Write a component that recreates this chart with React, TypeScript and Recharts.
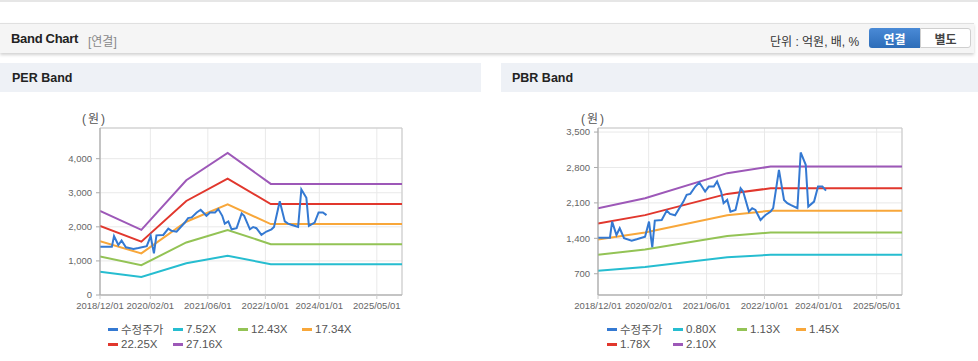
import React from "react";
import {
  LineChart,
  Line,
  XAxis,
  YAxis,
  CartesianGrid,
  ReferenceArea,
} from "recharts";

// ---- x axis (month index from 2018/12/01) ----
const xTickMonths = [0, 14, 30, 46, 61, 77];
const xTickLabels = ["2018/12/01", "2020/02/01", "2021/06/01", "2022/10/01", "2024/01/01", "2025/05/01"];
const xEndMonth = 84;

// ---- adjusted price (수정주가) ----
const priceMonths = [
  0, 3.3, 3.9, 5.1, 6, 7.2, 9.3, 10.7, 13, 14.1, 14.6, 15, 15.7, 17.6, 19, 19.9, 21.3, 23.6, 24.5, 25.5,
  26.9, 28, 29.6, 30.6, 32, 32.9, 34, 34.7, 35.7, 36.6, 38, 39.4, 40.1, 41.7, 42.6, 43.5, 44.9, 46.3, 47.7,
  48.4, 50, 51.4, 52.3, 53.2, 55.1, 56, 57.4, 58.1, 59.7, 60.8, 62, 63,
];
const priceValues = [
  1413, 1413, 1730, 1466, 1599, 1401, 1353, 1381, 1433, 1730, 1433, 1223, 1750, 1763, 1947, 1882, 1856, 2126, 2258, 2278,
  2423, 2502, 2324, 2423, 2423, 2522, 2324, 2094, 2159, 1928, 1961, 2390, 2324, 1928, 1995, 1960, 1763, 1862, 1928,
  1995, 2753, 2159, 2094, 2060, 1995, 3096, 2852, 2027, 2126, 2423, 2423, 2343,
];

// ---- PER band ----
const perBandMonths = [0, 11.5, 24, 35.5, 47.5, 84];
const per752 = [684, 529, 932, 1154, 902, 902];
const per1243 = [1130, 875, 1541, 1908, 1492, 1492];
const per1734 = [1576, 1221, 2150, 2662, 2081, 2081];
const per2225 = [2023, 1566, 2759, 3415, 2670, 2670];
const per2716 = [2469, 1912, 3368, 4169, 3259, 3259];
const perYTicks = [0, 1000, 2000, 3000, 4000];
const perYDomain = [0, 4900];
const perLabels = ["수정주가", "7.52X", "12.43X", "17.34X", "22.25X", "27.16X"];

// ---- PBR band ----
const pbrBandMonths = [0, 13, 35.7, 47.7, 84];
const pbr080 = [760, 835, 1024, 1074, 1074];
const pbr113 = [1074, 1180, 1446, 1516, 1516];
const pbr145 = [1378, 1514, 1856, 1946, 1946];
const pbr178 = [1691, 1858, 2278, 2389, 2389];
const pbr210 = [1995, 2192, 2688, 2818, 2818];
const pbrYTicks = [700, 1400, 2100, 2800, 3500];
const pbrYDomain = [280, 3580];
const pbrLabels = ["수정주가", "0.80X", "1.13X", "1.45X", "1.78X", "2.10X"];

const seriesColors = ["#3479d2", "#26bdd0", "#93c355", "#f8a73a", "#e1372d", "#9d58b8"];

const FONT = "'Liberation Sans', Arial, 'Noto Sans CJK KR', sans-serif";

function toPoints(months: number[], values: number[]) {
  return months.map((m, i) => ({ m, v: values[i] }));
}

function fmt(n: number) {
  return n.toLocaleString("en-US");
}

type BandProps = {
  left: number;
  width: number;
  marginLeft: number;
  marginRight: number;
  yTicks: number[];
  yDomain: number[];
  bandMonths: number[];
  bands: number[][];
  labels: string[];
  legendCols: number[];
  legendRow2Cols: number[];
  unitX: number;
};

function BandChart(p: BandProps) {
  const series = [toPoints(priceMonths, priceValues), ...p.bands.map((b) => toPoints(p.bandMonths, b))];
  // draw bands first, price on top
  const order = [1, 2, 3, 4, 5, 0];
  const legendPos = [
    [p.legendCols[0], 329],
    [p.legendCols[1], 329],
    [p.legendCols[2], 329],
    [p.legendCols[3], 329],
    [p.legendRow2Cols[0], 344],
    [p.legendRow2Cols[1], 344],
  ];
  return (
    <>
      <div
        style={{
          position: "absolute",
          left: p.unitX,
          top: 109,
          fontSize: 12,
          color: "#555",
          fontFamily: FONT,
          letterSpacing: 2,
        }}
      >
        (원)
      </div>
      <div style={{ position: "absolute", left: p.left, top: 100 }}>
        <LineChart
          width={p.width}
          height={215}
          margin={{ top: 28, right: p.marginRight, left: p.marginLeft, bottom: 0 }}
        >
          <CartesianGrid stroke="#e9e9e9" strokeWidth={1} />
          <XAxis
            type="number"
            dataKey="m"
            domain={[0, xEndMonth]}
            ticks={xTickMonths}
            tickFormatter={(v: number) => xTickLabels[xTickMonths.indexOf(v)] ?? ""}
            interval={0}
            height={20}
            tick={{ fontSize: 9.5, fill: "#666", fontFamily: FONT }}
            tickSize={4}
            tickMargin={3}
            axisLine={{ stroke: "#aaa" }}
            tickLine={{ stroke: "#ccc" }}
            allowDataOverflow
          />
          <YAxis
            type="number"
            dataKey="v"
            domain={p.yDomain}
            ticks={p.yTicks}
            interval={0}
            width={60}
            tickFormatter={fmt}
            tick={{ fontSize: 9.5, fill: "#666", fontFamily: FONT }}
            tickSize={4}
            tickMargin={4}
            axisLine={{ stroke: "#aaa" }}
            tickLine={{ stroke: "#aaa" }}
            allowDataOverflow
          />
          <ReferenceArea
            x1={0}
            x2={xEndMonth}
            y1={p.yDomain[0]}
            y2={p.yDomain[1]}
            fill="none"
            fillOpacity={0}
            stroke="#c8c8c8"
            strokeWidth={1}
            ifOverflow="visible"
          />
          {order.map((i) => (
            <Line
              key={i}
              data={series[i]}
              dataKey="v"
              type="linear"
              stroke={seriesColors[i]}
              strokeWidth={2}
              dot={false}
              activeDot={false}
              isAnimationActive={false}
            />
          ))}
        </LineChart>
      </div>
      {p.labels.map((lab, i) => (
        <div
          key={lab}
          style={{
            position: "absolute",
            left: legendPos[i][0],
            top: legendPos[i][1] - 8,
            height: 16,
            display: "flex",
            alignItems: "center",
            fontSize: 11.5,
            color: "#555",
            fontFamily: FONT,
            whiteSpace: "nowrap",
          }}
        >
          <span
            style={{
              display: "inline-block",
              width: 10,
              height: 3,
              background: seriesColors[i],
              marginRight: 3,
            }}
          />
          {lab}
        </div>
      ))}
    </>
  );
}

export default function App() {
  return (
    <div
      style={{
        position: "absolute",
        left: 0,
        top: 0,
        width: 978,
        height: 361,
        background: "#fff",
        overflow: "hidden",
        fontFamily: FONT,
      }}
    >
      {/* top rule */}
      <div style={{ position: "absolute", left: 0, top: 0, width: 978, height: 2, background: "#e6e6e6" }} />
      {/* header bar */}
      <div
        style={{
          position: "absolute",
          left: 0,
          top: 23,
          width: 974,
          height: 29,
          background: "#f5f5f5",
          borderTop: "1px solid #e0e0e0",
          boxShadow: "0 2px 3px rgba(0,0,0,0.18)",
        }}
      >
        <span
          style={{
            position: "absolute",
            left: 11,
            top: 7,
            fontSize: 13,
            fontWeight: "bold",
            color: "#222",
            letterSpacing: -0.3,
          }}
        >
          Band Chart
        </span>
        <span style={{ position: "absolute", left: 88, top: 8, fontSize: 12, color: "#888" }}>[연결]</span>
        <span style={{ position: "absolute", left: 770, top: 8, fontSize: 12, color: "#333" }}>단위 : 억원, 배, %</span>
        <div
          style={{
            position: "absolute",
            left: 869,
            top: 4,
            width: 51,
            height: 20,
            background: "linear-gradient(#4a8ad6, #2d6db8)",
            borderRadius: "3px 0 0 3px",
            color: "#fff",
            fontSize: 12,
            fontWeight: "bold",
            display: "flex",
            alignItems: "center",
            justifyContent: "center",
          }}
        >
          연결
        </div>
        <div
          style={{
            position: "absolute",
            left: 920,
            top: 4,
            width: 49,
            height: 18,
            background: "#fff",
            border: "1px solid #cfcfcf",
            borderRadius: "0 3px 3px 0",
            color: "#444",
            fontSize: 12,
            fontWeight: "bold",
            display: "flex",
            alignItems: "center",
            justifyContent: "center",
          }}
        >
          별도
        </div>
      </div>
      {/* panel titles */}
      <div style={{ position: "absolute", left: 0, top: 63, width: 481, height: 29, background: "#eef1f6" }}>
        <span style={{ position: "absolute", left: 12, top: 8, fontSize: 12.5, fontWeight: "bold", color: "#222" }}>
          PER Band
        </span>
      </div>
      <div style={{ position: "absolute", left: 501, top: 63, width: 477, height: 29, background: "#eef1f6" }}>
        <span style={{ position: "absolute", left: 11, top: 8, fontSize: 12.5, fontWeight: "bold", color: "#222" }}>
          PBR Band
        </span>
      </div>

      <BandChart
        left={0}
        width={480}
        marginLeft={40}
        marginRight={78}
        yTicks={perYTicks}
        yDomain={perYDomain}
        bandMonths={perBandMonths}
        bands={[per752, per1243, per1734, per2225, per2716]}
        labels={perLabels}
        legendCols={[108, 173, 238, 302]}
        legendRow2Cols={[108, 173]}
        unitX={82}
      />
      <BandChart
        left={490}
        width={488}
        marginLeft={48}
        marginRight={76}
        yTicks={pbrYTicks}
        yDomain={pbrYDomain}
        bandMonths={pbrBandMonths}
        bands={[pbr080, pbr113, pbr145, pbr178, pbr210]}
        labels={pbrLabels}
        legendCols={[607, 673, 737, 796]}
        legendRow2Cols={[607, 673]}
        unitX={581}
      />
    </div>
  );
}
